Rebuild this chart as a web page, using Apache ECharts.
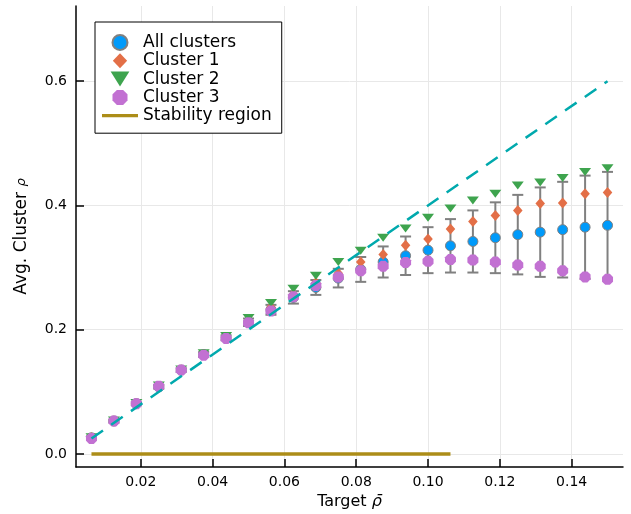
<!DOCTYPE html>
<html>
<head>
<meta charset="utf-8">
<script src="https://cdn.jsdelivr.net/npm/echarts@6/dist/echarts.min.js"></script>
<style>
html,body{margin:0;padding:0;background:#fff;}
#chart{width:631px;height:514px;}
</style>
</head>
<body>
<div id="chart"></div>
<script>
// ---- data ----
const targetRho = [0.00625, 0.0125, 0.01875, 0.025, 0.03125, 0.0375, 0.04375, 0.05, 0.05625, 0.0625, 0.06875, 0.075,
  0.08125, 0.0875, 0.09375, 0.1, 0.10625, 0.1125, 0.11875, 0.125, 0.13125, 0.1375, 0.14375, 0.15];
const allClusters = [0.026, 0.053, 0.081, 0.108, 0.135, 0.160, 0.187, 0.212, 0.232, 0.252, 0.268, 0.283,
  0.297, 0.309, 0.319, 0.328, 0.335, 0.342, 0.348, 0.353, 0.357, 0.361, 0.365, 0.368];
const allClustersErr = [0.002, 0.002, 0.002, 0.003, 0.003, 0.004, 0.004, 0.006, 0.008, 0.010, 0.012, 0.015,
  0.020, 0.025, 0.031, 0.037, 0.043, 0.050, 0.057, 0.064, 0.072, 0.077, 0.083, 0.086];
const cluster1 = [0.026, 0.053, 0.081, 0.108, 0.135, 0.160, 0.187, 0.213, 0.236, 0.257, 0.276, 0.291,
  0.309, 0.321, 0.336, 0.346, 0.362, 0.374, 0.384, 0.392, 0.403, 0.404, 0.419, 0.421];
const cluster2 = [0.027, 0.054, 0.082, 0.110, 0.136, 0.162, 0.190, 0.219, 0.243, 0.266, 0.287, 0.309,
  0.327, 0.348, 0.363, 0.380, 0.395, 0.408, 0.419, 0.432, 0.437, 0.444, 0.454, 0.460];
const cluster3 = [0.025, 0.053, 0.081, 0.109, 0.135, 0.159, 0.186, 0.211, 0.230, 0.253, 0.271, 0.285,
  0.295, 0.302, 0.308, 0.310, 0.313, 0.312, 0.309, 0.304, 0.302, 0.295, 0.285, 0.281];
const stabilityX = [0.00625, 0.10625];
const stabilityY = [0, 0];
const referenceX = [0.00625, 0.15];
const referenceY = [0.025, 0.6];
const xTicks = [0.02, 0.04, 0.06, 0.08, 0.10, 0.12, 0.14];
const yTicks = [0.0, 0.2, 0.4, 0.6];
const seriesNames = ['All clusters', 'Cluster 1', 'Cluster 2', 'Cluster 3', 'Stability region'];

// ---- chart ----
const FONT = 'DejaVu Sans';
const zip = (xs, ys) => xs.map((x, i) => [x, ys[i]]);
const octagon = 'path://M0.586,0 L1.414,0 L2,0.586 L2,1.414 L1.414,2 L0.586,2 L0,1.414 L0,0.586 Z';
const downTriangle = 'path://M0,0 L2,0 L1,1.6 Z';
const diamond = 'path://M1,0 L2,1.05 L1,2.1 L0,1.05 Z';
const barIcon = 'path://M0,0 L36,0 L36,3.2 L0,3.2 Z';

const chart = echarts.init(document.getElementById('chart'), null, {renderer: 'canvas'});
const option = {
  animation: false,
  backgroundColor: '#fff',
  grid: {left: 76, right: 8, top: 6, bottom: 47, containLabel: false, outerBoundsMode: 'none'},
  legend: {
    data: seriesNames.map(n => n === 'Stability region' ? {name: n, icon: barIcon} : {name: n}),
    orient: 'vertical',
    left: 95, top: 22,
    padding: [12, 10, 9, 7],
    itemGap: 1.3,
    itemWidth: 36,
    itemHeight: 15,
    symbolKeepAspect: true,
    borderColor: '#000', borderWidth: 1, borderRadius: 0,
    backgroundColor: '#fff',
    textStyle: {fontFamily: FONT, fontSize: 17, color: '#000', lineHeight: 17}
  },
  xAxis: {
    type: 'value', min: 0.00194, max: 0.15431,
    name: 'Target {it|ρ̄}', nameLocation: 'middle', nameGap: 23,
    nameTextStyle: {fontFamily: FONT, fontSize: 16, color: '#000',
      rich: {it: {fontFamily: FONT, fontSize: 16, fontStyle: 'italic', color: '#000'}}},
    axisLine: {onZero: false, lineStyle: {color: '#000', width: 1.5}},
    axisTick: {inside: true, length: 8, lineStyle: {color: '#000', width: 1.5}, customValues: xTicks},
    axisLabel: {customValues: xTicks, margin: 8, fontFamily: FONT, fontSize: 14, color: '#000',
      formatter: v => v.toFixed(2)},
    splitLine: {show: true, lineStyle: {color: '#e8e8e8', width: 1}}
  },
  yAxis: {
    type: 'value', min: -0.021, max: 0.721,
    name: 'Avg. Cluster {it|ρ}', nameLocation: 'middle', nameGap: 46, nameRotate: 90,
    nameTextStyle: {fontFamily: FONT, fontSize: 17, color: '#000',
      rich: {it: {fontFamily: FONT, fontSize: 13, fontStyle: 'italic', color: '#000'}}},
    axisLine: {onZero: false, lineStyle: {color: '#000', width: 1.5}},
    axisTick: {inside: true, length: 8, lineStyle: {color: '#000', width: 1.5}, customValues: yTicks},
    axisLabel: {customValues: yTicks, margin: 9, fontFamily: FONT, fontSize: 14, color: '#000',
      formatter: v => v.toFixed(1)},
    splitLine: {show: true, lineStyle: {color: '#e8e8e8', width: 1}}
  },
  series: [
    {
      name: 'errorbars', type: 'custom',
      data: targetRho.map((x, i) => [x, allClusters[i] - allClustersErr[i], allClusters[i] + allClustersErr[i]]),
      encode: {x: 0, y: [1, 2]},
      renderItem: function (params, api) {
        const x = api.value(0);
        const lo = api.coord([x, api.value(1)]);
        const hi = api.coord([x, api.value(2)]);
        const cap = 5.5;
        const style = {stroke: '#808080', lineWidth: 2};
        return {type: 'group', children: [
          {type: 'line', shape: {x1: lo[0], y1: lo[1], x2: hi[0], y2: hi[1]}, style: style},
          {type: 'line', shape: {x1: lo[0] - cap, y1: lo[1], x2: lo[0] + cap, y2: lo[1]}, style: style},
          {type: 'line', shape: {x1: hi[0] - cap, y1: hi[1], x2: hi[0] + cap, y2: hi[1]}, style: style}
        ]};
      },
      silent: true
    },
    {
      name: 'All clusters', type: 'scatter', data: zip(targetRho, allClusters),
      symbol: 'circle', symbolSize: 10, symbolKeepAspect: true,
      itemStyle: {color: '#009AFA', borderColor: '#808080', borderWidth: 1, opacity: 1}
    },
    {
      name: 'Cluster 1', type: 'scatter', data: zip(targetRho, cluster1),
      symbol: diamond, symbolSize: [10, 11], symbolKeepAspect: true,
      itemStyle: {color: '#E36F47', opacity: 1}
    },
    {
      name: 'Cluster 2', type: 'scatter', data: zip(targetRho, cluster2),
      symbol: downTriangle, symbolSize: [12, 10], symbolKeepAspect: true,
      itemStyle: {color: '#3EA44E', opacity: 1}
    },
    {
      name: 'Cluster 3', type: 'scatter', data: zip(targetRho, cluster3),
      symbol: octagon, symbolSize: 11, symbolKeepAspect: true,
      itemStyle: {color: '#C271D2', opacity: 1}
    },
    {
      name: 'Stability region', type: 'line', data: zip(stabilityX, stabilityY),
      symbol: 'none', lineStyle: {color: '#AC8D18', width: 3.5}, itemStyle: {color: '#AC8D18'}
    },
    {
      name: 'reference', type: 'line', data: zip(referenceX, referenceY),
      symbol: 'none', lineStyle: {color: '#00A9AD', width: 2.5, type: [14, 10]}, itemStyle: {color: '#00A9AD'}
    }
  ]
};
chart.setOption(option);
</script>
</body>
</html>
